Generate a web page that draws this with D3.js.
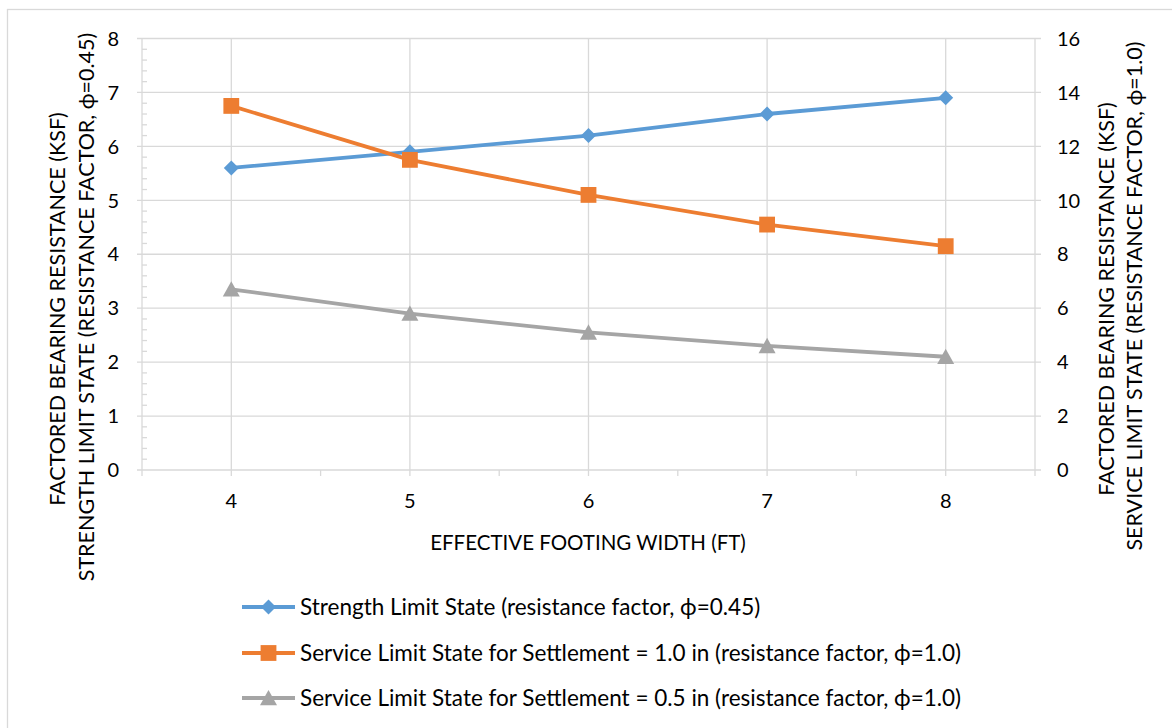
<!DOCTYPE html>
<html><head><meta charset="utf-8">
<script src="https://cdn.jsdelivr.net/npm/d3@7"></script>
<style>
html,body{margin:0;padding:0;background:#fff;}
text{font-family:Lato, "Open Sans", sans-serif; fill:#000;}
</style></head>
<body><svg id="c" width="1172" height="728"></svg>
<script>
const categories = [4, 5, 6, 7, 8];
const strength = [5.6, 5.9, 6.2, 6.6, 6.9];      // left axis
const service10 = [13.5, 11.5, 10.2, 9.1, 8.3];  // right axis
const service05 = [6.7, 5.8, 5.1, 4.6, 4.2];     // right axis
const leftTicks = [0,1,2,3,4,5,6,7,8];
const rightTicks = [0,2,4,6,8,10,12,14,16];
const seriesNames = [
  "Strength Limit State (resistance factor, \u03D5=0.45)",
  "Service Limit State for Settlement = 1.0 in (resistance factor, \u03D5=1.0)",
  "Service Limit State for Settlement = 0.5 in (resistance factor, \u03D5=1.0)"
];
const colors = ["#5B9BD5", "#ED7D31", "#A5A5A5"];

const svg = d3.select("#c");
const L = 142, R = 1035, T = 38.5, B = 470;
const grid = "#d9d9d9";

// outer border
svg.append("rect").attr("x",7.5).attr("y",9.5).attr("width",1170).attr("height",730)
  .attr("fill","none").attr("stroke",grid).attr("stroke-width",1.3);

const x = d3.scaleBand().domain(categories).range([L, R]).paddingInner(0).paddingOuter(0);
const yL = d3.scaleLinear().domain([0,8]).range([B, T]);
const yR = d3.scaleLinear().domain([0,16]).range([B, T]);
const cx = d => x(d) + x.bandwidth()/2;

// horizontal gridlines
svg.append("g").selectAll("line").data(leftTicks).join("line")
  .attr("x1", L-5).attr("x2", R+6).attr("y1", d=>yL(d)).attr("y2", d=>yL(d))
  .attr("stroke", grid).attr("stroke-width", 1.3);
// minor ticks left (inside)
const minor = d3.range(0, 8.01, 0.2).filter(v => Math.abs(v - Math.round(v)) > 0.01);
svg.append("g").selectAll("line").data(minor).join("line")
  .attr("x1", L).attr("x2", L+5).attr("y1", d=>yL(d)).attr("y2", d=>yL(d))
  .attr("stroke", grid).attr("stroke-width", 1.3);
// vertical gridlines at categories
svg.append("g").selectAll("line").data(categories).join("line")
  .attr("x1", d=>cx(d)).attr("x2", d=>cx(d)).attr("y1", T).attr("y2", B+6)
  .attr("stroke", grid).attr("stroke-width", 1.3);
// axis lines
svg.append("line").attr("x1",L).attr("x2",L).attr("y1",T).attr("y2",B).attr("stroke",grid).attr("stroke-width",1.3);
svg.append("line").attr("x1",R).attr("x2",R).attr("y1",T).attr("y2",B).attr("stroke",grid).attr("stroke-width",1.3);
// x boundary ticks
const bounds = categories.map(c => x(c)).concat([R]);
svg.append("g").selectAll("line").data(bounds).join("line")
  .attr("x1", d=>d).attr("x2", d=>d).attr("y1", B).attr("y2", B+6)
  .attr("stroke", grid).attr("stroke-width", 1.3);

// tick labels
const fs = 20;
svg.append("g").selectAll("text").data(leftTicks).join("text")
  .attr("x", 119).attr("y", d=>yL(d)).attr("dy","0.36em").attr("text-anchor","end")
  .attr("font-size", fs).text(d=>d);
svg.append("g").selectAll("text").data(rightTicks).join("text")
  .attr("x", 1057).attr("y", d=>yR(d)).attr("dy","0.36em").attr("text-anchor","start")
  .attr("font-size", fs).text(d=>d);
svg.append("g").selectAll("text").data(categories).join("text")
  .attr("x", d=>cx(d)).attr("y", 501).attr("dy","0.36em").attr("text-anchor","middle")
  .attr("font-size", fs).text(d=>d);

// axis titles
svg.append("text").attr("x", 588).attr("y", 543).attr("dy","0.36em").attr("text-anchor","middle")
  .attr("font-size", 20.5).text("EFFECTIVE FOOTING WIDTH (FT)");
function vtitle(xp, yp, txt){
  svg.append("text").attr("transform", `translate(${xp},${yp}) rotate(-90)`)
    .attr("text-anchor","middle").attr("dy","0.36em").attr("font-size", 21.5).text(txt);
}
vtitle(57, 309, "FACTORED BEARING RESISTANCE (KSF)");
vtitle(86, 307, "STRENGTH LIMIT STATE (RESISTANCE FACTOR, \u03D5=0.45)");
vtitle(1106, 299, "FACTORED BEARING RESISTANCE (KSF)");
vtitle(1134.5, 296, "SERVICE LIMIT STATE (RESISTANCE FACTOR, \u03D5=1.0)");

// series
const diamond = {draw(ctx, size){ const r = Math.sqrt(size)/1.4; ctx.moveTo(0,-r); ctx.lineTo(r,0); ctx.lineTo(0,r); ctx.lineTo(-r,0); ctx.closePath(); }};
const tri = {draw(ctx, size){ const r = Math.sqrt(size)/1.4; ctx.moveTo(0,-r*0.95); ctx.lineTo(r,r*0.85); ctx.lineTo(-r,r*0.85); ctx.closePath(); }};
const series = [
  {vals: strength, y: yL, sym: diamond, size: 110},
  {vals: service10, y: yR, sym: d3.symbolSquare, size: 250},
  {vals: service05, y: yR, sym: tri, size: 142}
];

series.forEach((s, i) => {
  const line = d3.line().x((d,j)=>cx(categories[j])).y(d=>s.y(d));
  svg.append("path").datum(s.vals).attr("d", line).attr("fill","none")
    .attr("stroke", colors[i]).attr("stroke-width", 3.8).attr("stroke-linejoin","round");
  svg.append("g").selectAll("path").data(s.vals).join("path")
    .attr("transform", (d,j)=>`translate(${cx(categories[j])},${s.y(d)})`)
    .attr("d", d3.symbol().type(s.sym).size(s.size)).attr("fill", colors[i]);
});

// legend
const legY = [607, 653, 698];
seriesNames.forEach((n, i) => {
  const g = svg.append("g").attr("transform", `translate(0,${legY[i]})`);
  g.append("line").attr("x1",242).attr("x2",295).attr("y1",0).attr("y2",0)
    .attr("stroke", colors[i]).attr("stroke-width",3.8);
  g.append("path").attr("transform","translate(268.5,0)")
    .attr("d", d3.symbol().type(series[i].sym).size(series[i].size)).attr("fill", colors[i]);
  g.append("text").attr("x",300).attr("y",0).attr("dy","0.36em").attr("font-size",22.5).text(n);
});
</script></body></html>
